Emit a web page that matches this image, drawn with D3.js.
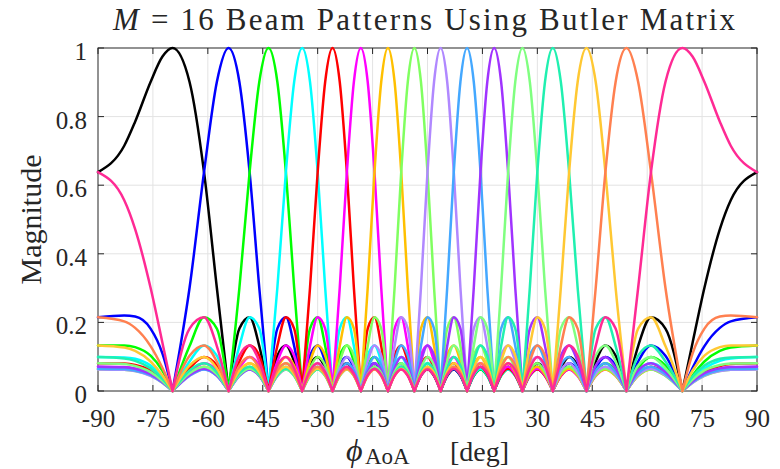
<!DOCTYPE html>
<html>
<head>
<meta charset="utf-8">
<script src="https://cdn.jsdelivr.net/npm/d3@7"></script>
<style>
    body { margin: 0; background: #ffffff; }
    svg { display: block; }
    text { font-family: 'Liberation Serif', 'Times New Roman', serif; fill: #262626; }
</style>
</head>
<body>
<div class="chart-beams"></div>
<script>
// sample angles (deg) the curves were read at
const aoaDeg = [-90, -82.83, -79.86, -75.64, -72.39, -69.64, -64.99, -61.04, -57.54, -54.34, -51.38, -48.59,
    -45.95, -43.43, -41.01, -38.68, -36.42, -34.23, -32.09, -30, -27.95, -25.94, -23.97, -22.02, -20.11,
    -18.21, -16.33, -14.48, -12.64, -10.81, -8.99, -7.18, -5.38, -3.58, -1.79, 0, 1.79, 3.58, 5.38, 7.18,
    8.99, 10.81, 12.64, 14.48, 16.33, 18.21, 20.11, 22.02, 23.97, 25.94, 27.95, 30, 32.09, 34.23, 36.42,
    38.68, 41.01, 43.43, 45.95, 48.59, 51.38, 54.34, 57.54, 61.04, 64.99, 69.64, 72.39, 75.64, 79.86, 82.83, 90];

// magnitude of each beam, left to right by pointing angle
const beam01 = [.638,.715,.785,.901,.975, 1,.901,.638,.301, 0,.182,.215,.131, 0,.103,.133,.086, 0,.074,.099,.066, 0,.060,.081,.055, 0,.052,.071,.049, 0,.047,.065,.046, 0,.045,.063,.044, 0,.044,.063,.045, 0,.046,.065,.047, 0,.049,.071,.052, 0,.055,.081,.060, 0,.066,.099,.074, 0,.086,.133,.103, 0,.131,.215,.182, 0, .140,.301,.472,.556,.638];
const beam02 = [.215,.220,.217,.182,.109, 0, .301,.638,.901,1, .901,.638,.301, 0,.182,.215,.131, 0,.103,.133,.086, 0,.074,.099,.066, 0,.060,.081,.055, 0,.052,.071,.049, 0,.047,.065,.046, 0,.045,.063,.044, 0,.044,.063,.045, 0,.046,.065,.047, 0,.049,.071,.052, 0,.055,.081,.060, 0,.066,.099,.074, 0,.086,.133,.103, 0, .067,.131,.184,.203,.215];
const beam03 = [.133,.133,.128,.103,.059, 0, .131,.215,.182,0, .301,.638,.901,1, .901,.638,.301, 0,.182,.215,.131, 0,.103,.133,.086, 0,.074,.099,.066, 0,.060,.081,.055, 0,.052,.071,.049, 0,.047,.065,.046, 0,.045,.063,.044, 0,.044,.063,.045, 0,.046,.065,.047, 0,.049,.071,.052, 0,.055,.081,.060, 0,.066,.099,.074, 0, .045,.086,.117,.127,.133];
const beam04 = [.099,.098,.094,.074,.042, 0, .086,.133,.103,0, .131,.215,.182,0, .301,.638,.901,1, .901,.638,.301, 0,.182,.215,.131, 0,.103,.133,.086, 0,.074,.099,.066, 0,.060,.081,.055, 0,.052,.071,.049, 0,.047,.065,.046, 0,.045,.063,.044, 0,.044,.063,.045, 0,.046,.065,.047, 0,.049,.071,.052, 0,.055,.081,.060, 0, .035,.066,.088,.095,.099];
const beam05 = [.081,.080,.076,.060,.033, 0, .066,.099,.074,0, .086,.133,.103,0, .131,.215,.182,0, .301,.638,.901,1, .901,.638,.301, 0,.182,.215,.131, 0,.103,.133,.086, 0,.074,.099,.066, 0,.060,.081,.055, 0,.052,.071,.049, 0,.047,.065,.046, 0,.045,.063,.044, 0,.044,.063,.045, 0,.046,.065,.047, 0,.049,.071,.052, 0, .029,.055,.073,.079,.081];
const beam06 = [.071,.070,.066,.052,.028, 0, .055,.081,.060,0, .066,.099,.074,0, .086,.133,.103,0, .131,.215,.182,0, .301,.638,.901,1, .901,.638,.301, 0,.182,.215,.131, 0,.103,.133,.086, 0,.074,.099,.066, 0,.060,.081,.055, 0,.052,.071,.049, 0,.047,.065,.046, 0,.045,.063,.044, 0,.044,.063,.045, 0,.046,.065,.047, 0, .026,.049,.065,.069,.071];
const beam07 = [.065,.064,.061,.047,.026, 0, .049,.071,.052,0, .055,.081,.060,0, .066,.099,.074,0, .086,.133,.103,0, .131,.215,.182,0, .301,.638,.901,1, .901,.638,.301, 0,.182,.215,.131, 0,.103,.133,.086, 0,.074,.099,.066, 0,.060,.081,.055, 0,.052,.071,.049, 0,.047,.065,.046, 0,.045,.063,.044, 0,.044,.063,.045, 0, .025,.046,.060,.064,.065];
const beam08 = [.063,.062,.058,.045,.024, 0, .046,.065,.047,0, .049,.071,.052,0, .055,.081,.060,0, .066,.099,.074,0, .086,.133,.103,0, .131,.215,.182,0, .301,.638,.901,1, .901,.638,.301, 0,.182,.215,.131, 0,.103,.133,.086, 0,.074,.099,.066, 0,.060,.081,.055, 0,.052,.071,.049, 0,.047,.065,.046, 0,.045,.063,.044, 0, .024,.044,.058,.062,.063];
const beam09 = [.063,.062,.058,.044,.024, 0, .044,.063,.045,0, .046,.065,.047,0, .049,.071,.052,0, .055,.081,.060,0, .066,.099,.074,0, .086,.133,.103,0, .131,.215,.182,0, .301,.638,.901,1, .901,.638,.301, 0,.182,.215,.131, 0,.103,.133,.086, 0,.074,.099,.066, 0,.060,.081,.055, 0,.052,.071,.049, 0,.047,.065,.046, 0, .024,.045,.058,.062,.063];
const beam10 = [.065,.064,.060,.046,.025, 0, .045,.063,.044,0, .044,.063,.045,0, .046,.065,.047,0, .049,.071,.052,0, .055,.081,.060,0, .066,.099,.074,0, .086,.133,.103,0, .131,.215,.182,0, .301,.638,.901,1, .901,.638,.301, 0,.182,.215,.131, 0,.103,.133,.086, 0,.074,.099,.066, 0,.060,.081,.055, 0,.052,.071,.049, 0, .026,.047,.061,.064,.065];
const beam11 = [.071,.069,.065,.049,.026, 0, .047,.065,.046,0, .045,.063,.044,0, .044,.063,.045,0, .046,.065,.047,0, .049,.071,.052,0, .055,.081,.060,0, .066,.099,.074,0, .086,.133,.103,0, .131,.215,.182,0, .301,.638,.901,1, .901,.638,.301, 0,.182,.215,.131, 0,.103,.133,.086, 0,.074,.099,.066, 0,.060,.081,.055, 0, .028,.052,.066,.070,.071];
const beam12 = [.081,.079,.073,.055,.029, 0, .052,.071,.049,0, .047,.065,.046,0, .045,.063,.044,0, .044,.063,.045,0, .046,.065,.047,0, .049,.071,.052,0, .055,.081,.060,0, .066,.099,.074,0, .086,.133,.103,0, .131,.215,.182,0, .301,.638,.901,1, .901,.638,.301, 0,.182,.215,.131, 0,.103,.133,.086, 0,.074,.099,.066, 0, .033,.060,.076,.080,.081];
const beam13 = [.099,.095,.088,.066,.035, 0, .060,.081,.055,0, .052,.071,.049,0, .047,.065,.046,0, .045,.063,.044,0, .044,.063,.045,0, .046,.065,.047,0, .049,.071,.052,0, .055,.081,.060,0, .066,.099,.074,0, .086,.133,.103,0, .131,.215,.182,0, .301,.638,.901,1, .901,.638,.301, 0,.182,.215,.131, 0,.103,.133,.086, 0, .042,.074,.094,.098,.099];
const beam14 = [.133,.127,.117,.086,.045, 0, .074,.099,.066,0, .060,.081,.055,0, .052,.071,.049,0, .047,.065,.046,0, .045,.063,.044,0, .044,.063,.045,0, .046,.065,.047,0, .049,.071,.052,0, .055,.081,.060,0, .066,.099,.074,0, .086,.133,.103,0, .131,.215,.182,0, .301,.638,.901,1, .901,.638,.301, 0,.182,.215,.131, 0, .059,.103,.128,.133,.133];
const beam15 = [.215,.203,.184,.131,.067, 0, .103,.133,.086,0, .074,.099,.066,0, .060,.081,.055,0, .052,.071,.049,0, .047,.065,.046,0, .045,.063,.044,0, .044,.063,.045,0, .046,.065,.047,0, .049,.071,.052,0, .055,.081,.060,0, .066,.099,.074,0, .086,.133,.103,0, .131,.215,.182,0, .301,.638,.901,1, .901,.638,.301, 0, .109,.182,.217,.220,.215];
const beam16 = [.638,.556,.472,.301,.140, 0, .182,.215,.131,0, .103,.133,.086,0, .074,.099,.066,0, .060,.081,.055,0, .052,.071,.049,0, .047,.065,.046,0, .045,.063,.044,0, .044,.063,.045,0, .046,.065,.047,0, .049,.071,.052,0, .055,.081,.060,0, .066,.099,.074,0, .086,.133,.103,0, .131,.215,.182,0, .301,.638,.901,1, .975,.901,.785,.715,.638];

const beams = [beam01, beam02, beam03, beam04, beam05, beam06, beam07, beam08,
    beam09, beam10, beam11, beam12, beam13, beam14, beam15, beam16];
const beamColors = ['#000000', '#0000ff', '#00ff00', '#00ffff', '#ff0000', '#ff00ff', '#ffc000', '#80ff60',
    '#b088ff', '#44a8ff', '#a033ff', '#80ff80', '#20f0b0', '#ffc833', '#ff8050', '#ff2a94'];

const xTicks = [-90, -75, -60, -45, -30, -15, 0, 15, 30, 45, 60, 75, 90];
const xTickLabels = ['-90', '-75', '-60', '-45', '-30', '-15', '0', '15', '30', '45', '60', '75', '90'];
const yTicks = [0, 0.2, 0.4, 0.6, 0.8, 1];
const yTickLabels = ['0', '0.2', '0.4', '0.6', '0.8', '1'];

const serif = "'Liberation Serif', 'Times New Roman', serif";

let baseWidth = 780, baseHeight = 469;
let margins = {top: 48, right: 23, bottom: 78, left: 98};
let width = baseWidth - margins.left - margins.right,
    height = baseHeight - margins.top - margins.bottom;

let svg = d3.select('.chart-beams').append('svg')
    .attr('width', baseWidth)
    .attr('height', baseHeight)
    .attr('font-family', serif);
svg.append('rect')
    .attr('width', baseWidth)
    .attr('height', baseHeight)
    .attr('fill', '#ffffff');

let x = d3.scaleLinear().domain([-90, 90]).range([0, width]);
let y = d3.scaleLinear().domain([0, 1]).range([height, 0]);

let chartLayer = svg.append('g')
    .attr('transform', 'translate(' + margins.left + ',' + margins.top + ')');

// grid
chartLayer.append('g').selectAll('line')
    .data(xTicks.slice(1, -1))
    .enter().append('line')
    .attr('x1', function(d) { return x(d); })
    .attr('x2', function(d) { return x(d); })
    .attr('y1', 0)
    .attr('y2', height)
    .attr('stroke', '#e3e3e3')
    .attr('stroke-width', 1);
chartLayer.append('g').selectAll('line')
    .data(yTicks.slice(1, -1))
    .enter().append('line')
    .attr('x1', 0)
    .attr('x2', width)
    .attr('y1', function(d) { return y(d); })
    .attr('y2', function(d) { return y(d); })
    .attr('stroke', '#e3e3e3')
    .attr('stroke-width', 1);

// axes: labels from d3 axes, ticks drawn inward on all four sides
let xAxisGroup = chartLayer.append('g')
    .attr('transform', 'translate(0,' + height + ')')
    .call(d3.axisBottom(x).tickValues(xTicks).tickSize(0).tickPadding(0)
        .tickFormat(function(d, i) { return xTickLabels[i]; }));
xAxisGroup.attr('font-family', serif).attr('font-size', 25);
xAxisGroup.select('.domain').remove();
xAxisGroup.selectAll('text')
    .attr('y', 36)
    .attr('dy', null)
    .attr('fill', '#262626');

let yAxisGroup = chartLayer.append('g')
    .call(d3.axisLeft(y).tickValues(yTicks).tickSize(0).tickPadding(0)
        .tickFormat(function(d, i) { return yTickLabels[i]; }));
yAxisGroup.attr('font-family', serif).attr('font-size', 25);
yAxisGroup.select('.domain').remove();
yAxisGroup.selectAll('text')
    .attr('x', -11)
    .attr('dy', null)
    .attr('y', 11.5)
    .attr('fill', '#262626');

let tickLayer = chartLayer.append('g')
    .attr('stroke', '#262626')
    .attr('stroke-width', 1);
xTicks.forEach(function(t) {
    tickLayer.append('line').attr('x1', x(t)).attr('x2', x(t)).attr('y1', height).attr('y2', height - 6);
    tickLayer.append('line').attr('x1', x(t)).attr('x2', x(t)).attr('y1', 0).attr('y2', 6);
});
yTicks.forEach(function(t) {
    tickLayer.append('line').attr('x1', 0).attr('x2', 6).attr('y1', y(t)).attr('y2', y(t));
    tickLayer.append('line').attr('x1', width).attr('x2', width - 6).attr('y1', y(t)).attr('y2', y(t));
});
chartLayer.append('rect')
    .attr('width', width)
    .attr('height', height)
    .attr('fill', 'none')
    .attr('stroke', '#262626')
    .attr('stroke-width', 1);

// split a beam at its nulls so every lobe gets a sharp cusp there
function lobes(values) {
    let segs = [], cur = [];
    values.forEach(function(v, i) {
        cur.push([aoaDeg[i], v]);
        if (v === 0 && cur.length > 1) {
            segs.push(cur);
            cur = [[aoaDeg[i], v]];
        }
    });
    if (cur.length > 1) segs.push(cur);
    return segs;
}

let line = d3.line()
    .x(function(d) { return x(d[0]); })
    .y(function(d) { return y(d[1]); })
    .curve(d3.curveMonotoneX);

chartLayer.append('g').selectAll('path')
    .data(beams)
    .enter().append('path')
    .attr('d', function(d) { return lobes(d).map(function(s) { return line(s); }).join(''); })
    .attr('fill', 'none')
    .attr('stroke', function(d, i) { return beamColors[i]; })
    .attr('stroke-width', 2.5)
    .attr('stroke-linejoin', 'round')
    .attr('stroke-linecap', 'round');

// title and axis labels
let title = svg.append('text')
    .attr('x', 424)
    .attr('y', 30)
    .attr('text-anchor', 'middle')
    .attr('font-size', 31)
    .attr('textLength', 622)
    .attr('lengthAdjust', 'spacing');
title.append('tspan').attr('font-style', 'italic').text('M');
title.append('tspan').text(' = 16 Beam Patterns Using Butler Matrix');

svg.append('text')
    .attr('transform', 'translate(41,' + (margins.top + height / 2) + ') rotate(-90)')
    .attr('text-anchor', 'middle')
    .attr('font-size', 30)
    .text('Magnitude');

let xLabel = svg.append('g');
xLabel.append('text')
    .attr('x', 346).attr('y', 461)
    .attr('font-size', 32)
    .attr('font-style', 'italic')
    .text('\u03d5');
xLabel.append('text')
    .attr('x', 365).attr('y', 463.5)
    .attr('font-size', 23)
    .text('AoA');
xLabel.append('text')
    .attr('x', 450).attr('y', 461)
    .attr('font-size', 28)
    .text('[deg]');
</script>
</body>
</html>
